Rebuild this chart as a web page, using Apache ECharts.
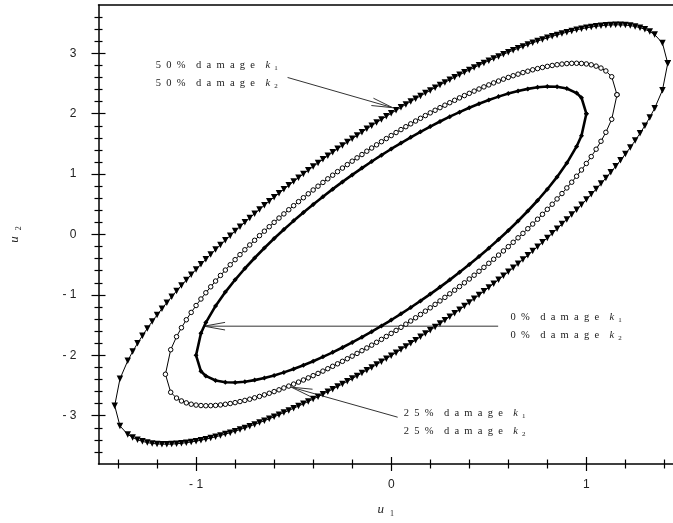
<!DOCTYPE html>
<html>
<head>
<meta charset="utf-8">
<script src="https://cdn.jsdelivr.net/npm/echarts@6/dist/echarts.min.js"></script>
<style>
  html, body { margin: 0; padding: 0; background: #fff; }
  #chart { width: 673px; height: 523px; }
</style>
</head>
<body>
<div id="chart"></div>
<script>
// orbits u1-u2 (closed loops: upper branch, then lower branch)
var orbit50 = [
  [1.417,2.834],[1.39,3.170],[1.35,3.310],[1.325,3.361],[1.30,3.398],[1.275,3.425],[1.25,3.445],[1.225,3.459],[1.20,3.467],[1.175,3.471],
  [1.15,3.472],[1.125,3.470],[1.10,3.465],[1.075,3.457],[1.05,3.447],[1.025,3.435],[1.00,3.422],[0.975,3.406],[0.95,3.389],[0.925,3.370],
  [0.90,3.350],[0.875,3.328],[0.85,3.305],[0.825,3.281],[0.80,3.256],[0.775,3.230],[0.75,3.202],[0.725,3.174],[0.70,3.145],[0.675,3.114],
  [0.65,3.083],[0.625,3.051],[0.60,3.018],[0.575,2.984],[0.55,2.949],[0.525,2.914],[0.50,2.877],[0.475,2.840],[0.45,2.803],[0.425,2.764],
  [0.40,2.725],[0.375,2.685],[0.35,2.644],[0.325,2.603],[0.30,2.561],[0.275,2.518],[0.25,2.475],[0.225,2.431],[0.20,2.386],[0.175,2.341],
  [0.15,2.295],[0.125,2.249],[0.10,2.202],[0.075,2.154],[0.05,2.105],[0.025,2.056],[0,2.007],
  [-0.025,1.956],[-0.05,1.905],[-0.075,1.854],[-0.10,1.802],[-0.125,1.749],[-0.15,1.695],[-0.175,1.641],[-0.20,1.586],[-0.225,1.531],[-0.25,1.475],
  [-0.275,1.418],[-0.30,1.361],[-0.325,1.303],[-0.35,1.244],[-0.375,1.185],[-0.40,1.125],[-0.425,1.064],[-0.45,1.003],[-0.475,0.940],[-0.50,0.877],
  [-0.525,0.814],[-0.55,0.749],[-0.575,0.684],[-0.60,0.618],[-0.625,0.551],[-0.65,0.483],[-0.675,0.414],[-0.70,0.345],[-0.725,0.274],[-0.75,0.202],
  [-0.775,0.130],[-0.80,0.056],[-0.825,-0.019],[-0.85,-0.095],[-0.875,-0.172],[-0.90,-0.250],[-0.925,-0.330],[-0.95,-0.411],[-0.975,-0.494],[-1.00,-0.578],
  [-1.025,-0.665],[-1.05,-0.753],[-1.075,-0.843],[-1.10,-0.935],[-1.125,-1.030],[-1.15,-1.128],[-1.175,-1.229],[-1.20,-1.333],[-1.225,-1.441],[-1.25,-1.555],
  [-1.275,-1.675],[-1.30,-1.802],[-1.325,-1.939],[-1.35,-2.090],[-1.39,-2.390],[-1.417,-2.834],
  [-1.39,-3.170],[-1.35,-3.310],[-1.325,-3.361],[-1.30,-3.398],[-1.275,-3.425],[-1.25,-3.445],[-1.225,-3.459],[-1.20,-3.467],[-1.175,-3.471],
  [-1.15,-3.472],[-1.125,-3.470],[-1.10,-3.465],[-1.075,-3.457],[-1.05,-3.447],[-1.025,-3.435],[-1.00,-3.422],[-0.975,-3.406],[-0.95,-3.389],[-0.925,-3.370],
  [-0.90,-3.350],[-0.875,-3.328],[-0.85,-3.305],[-0.825,-3.281],[-0.80,-3.256],[-0.775,-3.230],[-0.75,-3.202],[-0.725,-3.174],[-0.70,-3.145],[-0.675,-3.114],
  [-0.65,-3.083],[-0.625,-3.051],[-0.60,-3.018],[-0.575,-2.984],[-0.55,-2.949],[-0.525,-2.914],[-0.50,-2.877],[-0.475,-2.840],[-0.45,-2.803],[-0.425,-2.764],
  [-0.40,-2.725],[-0.375,-2.685],[-0.35,-2.644],[-0.325,-2.603],[-0.30,-2.561],[-0.275,-2.518],[-0.25,-2.475],[-0.225,-2.431],[-0.20,-2.386],[-0.175,-2.341],
  [-0.15,-2.295],[-0.125,-2.249],[-0.10,-2.202],[-0.075,-2.154],[-0.05,-2.105],[-0.025,-2.056],[0,-2.007],
  [0.025,-1.956],[0.05,-1.905],[0.075,-1.854],[0.10,-1.802],[0.125,-1.749],[0.15,-1.695],[0.175,-1.641],[0.20,-1.586],[0.225,-1.531],[0.25,-1.475],
  [0.275,-1.418],[0.30,-1.361],[0.325,-1.303],[0.35,-1.244],[0.375,-1.185],[0.40,-1.125],[0.425,-1.064],[0.45,-1.003],[0.475,-0.940],[0.50,-0.877],
  [0.525,-0.814],[0.55,-0.749],[0.575,-0.684],[0.60,-0.618],[0.625,-0.551],[0.65,-0.483],[0.675,-0.414],[0.70,-0.345],[0.725,-0.274],[0.75,-0.202],
  [0.775,-0.130],[0.80,-0.056],[0.825,0.019],[0.85,0.095],[0.875,0.172],[0.90,0.250],[0.925,0.330],[0.95,0.411],[0.975,0.494],[1.00,0.578],
  [1.025,0.665],[1.05,0.753],[1.075,0.843],[1.10,0.935],[1.125,1.030],[1.15,1.128],[1.175,1.229],[1.20,1.333],[1.225,1.441],[1.25,1.555],
  [1.275,1.675],[1.30,1.802],[1.325,1.939],[1.35,2.090],[1.39,2.390],[1.417,2.834]
];
var orbit25 = [
  [1.157,2.314],[1.13,2.612],[1.10,2.708],[1.075,2.756],[1.05,2.788],[1.025,2.810],[1.00,2.824],[0.975,2.832],[0.95,2.835],[0.925,2.834],
  [0.90,2.830],[0.875,2.822],[0.85,2.811],[0.825,2.799],[0.80,2.784],[0.775,2.766],[0.75,2.747],[0.725,2.727],[0.70,2.704],[0.675,2.681],
  [0.65,2.655],[0.625,2.629],[0.60,2.601],[0.575,2.572],[0.55,2.541],[0.525,2.510],[0.50,2.477],[0.475,2.444],[0.45,2.409],[0.425,2.374],
  [0.40,2.337],[0.375,2.300],[0.35,2.262],[0.325,2.222],[0.30,2.182],[0.275,2.141],[0.25,2.100],[0.225,2.057],[0.20,2.014],[0.175,1.969],
  [0.15,1.924],[0.125,1.879],[0.10,1.832],[0.075,1.785],[0.05,1.737],[0.025,1.688],[0,1.638],
  [-0.025,1.588],[-0.05,1.537],[-0.075,1.485],[-0.10,1.432],[-0.125,1.379],[-0.15,1.324],[-0.175,1.269],[-0.20,1.214],[-0.225,1.157],[-0.25,1.100],
  [-0.275,1.041],[-0.30,0.982],[-0.325,0.922],[-0.35,0.862],[-0.375,0.800],[-0.40,0.737],[-0.425,0.674],[-0.45,0.609],[-0.475,0.544],[-0.50,0.477],
  [-0.525,0.410],[-0.55,0.341],[-0.575,0.272],[-0.60,0.201],[-0.625,0.129],[-0.65,0.055],[-0.675,-0.019],[-0.70,-0.096],[-0.725,-0.173],[-0.75,-0.253],
  [-0.775,-0.334],[-0.80,-0.417],[-0.825,-0.501],[-0.85,-0.589],[-0.875,-0.678],[-0.90,-0.771],[-0.925,-0.866],[-0.95,-0.965],[-0.975,-1.068],[-1.00,-1.176],
  [-1.025,-1.290],[-1.05,-1.412],[-1.075,-1.544],[-1.10,-1.692],[-1.13,-1.908],[-1.157,-2.314],
  [-1.13,-2.612],[-1.10,-2.708],[-1.075,-2.756],[-1.05,-2.788],[-1.025,-2.810],[-1.00,-2.824],[-0.975,-2.832],[-0.95,-2.835],[-0.925,-2.834],
  [-0.90,-2.830],[-0.875,-2.822],[-0.85,-2.811],[-0.825,-2.799],[-0.80,-2.784],[-0.775,-2.766],[-0.75,-2.747],[-0.725,-2.727],[-0.70,-2.704],[-0.675,-2.681],
  [-0.65,-2.655],[-0.625,-2.629],[-0.60,-2.601],[-0.575,-2.572],[-0.55,-2.541],[-0.525,-2.510],[-0.50,-2.477],[-0.475,-2.444],[-0.45,-2.409],[-0.425,-2.374],
  [-0.40,-2.337],[-0.375,-2.300],[-0.35,-2.262],[-0.325,-2.222],[-0.30,-2.182],[-0.275,-2.141],[-0.25,-2.100],[-0.225,-2.057],[-0.20,-2.014],[-0.175,-1.969],
  [-0.15,-1.924],[-0.125,-1.879],[-0.10,-1.832],[-0.075,-1.785],[-0.05,-1.737],[-0.025,-1.688],[0,-1.638],
  [0.025,-1.588],[0.05,-1.537],[0.075,-1.485],[0.10,-1.432],[0.125,-1.379],[0.15,-1.324],[0.175,-1.269],[0.20,-1.214],[0.225,-1.157],[0.25,-1.100],
  [0.275,-1.041],[0.30,-0.982],[0.325,-0.922],[0.35,-0.862],[0.375,-0.800],[0.40,-0.737],[0.425,-0.674],[0.45,-0.609],[0.475,-0.544],[0.50,-0.477],
  [0.525,-0.410],[0.55,-0.341],[0.575,-0.272],[0.60,-0.201],[0.625,-0.129],[0.65,-0.055],[0.675,0.019],[0.70,0.096],[0.725,0.173],[0.75,0.253],
  [0.775,0.334],[0.80,0.417],[0.825,0.501],[0.85,0.589],[0.875,0.678],[0.90,0.771],[0.925,0.866],[0.95,0.965],[0.975,1.068],[1.00,1.176],
  [1.025,1.290],[1.05,1.412],[1.075,1.544],[1.10,1.692],[1.13,1.908],[1.157,2.314]
];
var orbit0 = [
  [1.0,2.0],[0.975,2.265],[0.95,2.342],[0.90,2.417],[0.85,2.446],[0.80,2.450],[0.75,2.437],[0.70,2.411],[0.65,2.376],[0.60,2.333],
  [0.55,2.283],[0.50,2.226],[0.45,2.165],[0.40,2.098],[0.35,2.026],[0.30,1.951],[0.25,1.871],[0.20,1.787],[0.15,1.700],[0.10,1.609],
  [0.05,1.514],[0,1.416],
  [-0.05,1.314],[-0.10,1.209],[-0.15,1.100],[-0.20,0.987],[-0.25,0.871],[-0.30,0.751],[-0.35,0.626],[-0.40,0.498],[-0.45,0.365],[-0.50,0.226],
  [-0.55,0.083],[-0.60,-0.067],[-0.65,-0.224],[-0.70,-0.389],[-0.75,-0.563],[-0.80,-0.750],[-0.85,-0.954],[-0.90,-1.183],[-0.95,-1.458],
  [-0.975,-1.635],[-1.0,-2.0],
  [-0.975,-2.265],[-0.95,-2.342],[-0.90,-2.417],[-0.85,-2.446],[-0.80,-2.450],[-0.75,-2.437],[-0.70,-2.411],[-0.65,-2.376],[-0.60,-2.333],
  [-0.55,-2.283],[-0.50,-2.226],[-0.45,-2.165],[-0.40,-2.098],[-0.35,-2.026],[-0.30,-1.951],[-0.25,-1.871],[-0.20,-1.787],[-0.15,-1.700],
  [-0.10,-1.609],[-0.05,-1.514],[0,-1.416],
  [0.05,-1.314],[0.10,-1.209],[0.15,-1.100],[0.20,-0.987],[0.25,-0.871],[0.30,-0.751],[0.35,-0.626],[0.40,-0.498],[0.45,-0.365],[0.50,-0.226],
  [0.55,-0.083],[0.60,0.067],[0.65,0.224],[0.70,0.389],[0.75,0.563],[0.80,0.750],[0.85,0.954],[0.90,1.183],[0.95,1.458],[0.975,1.635],[1.0,2.0]
];

// axis ticks
var xMajor = [-1, 0, 1];
var xMinor = [-1.4, -1.2, -0.8, -0.6, -0.4, -0.2, 0.2, 0.4, 0.6, 0.8, 1.2, 1.4];
var yMajor = [-3, -2, -1, 0, 1, 2, 3];
var yMinor = [-3.6, -3.4, -3.2, -2.8, -2.6, -2.4, -2.2, -1.8, -1.6, -1.4, -1.2, -0.8, -0.6, -0.4, -0.2,
              0.2, 0.4, 0.6, 0.8, 1.2, 1.4, 1.6, 1.8, 2.2, 2.4, 2.6, 2.8, 3.2, 3.4, 3.6];

// annotations: damage level, arrow tail, arrow tip, text anchor (data units)
var noteLevel = ['50', '0', '25'];
var noteTail = [[-0.531, 2.60], [0.548, -1.518], [0.033, -3.025]];
var noteTip = [[0.007, 2.10], [-0.959, -1.518], [-0.512, -2.528]];
var noteText = [[-1.206, 2.80], [0.611, -1.374], [0.064, -2.964]];

var chart = echarts.init(document.getElementById('chart'), null, { renderer: 'canvas' });

// the right end of the x axis is cut by the picture edge
var X_MIN = -1.5, X_MAX = 1.444, Y_MIN = -3.8, Y_MAX = 3.8;
var black = '#000';
var tickStyle = { color: black, width: 1.2 };
var labelFont = { color: '#222', fontSize: 12, fontFamily: 'Liberation Sans, Arial, sans-serif' };
var fmt = function (v) { return v < 0 ? '- ' + (-v) : String(v); };

function xAx(extra) {
  return Object.assign({
    type: 'value', min: X_MIN, max: X_MAX, position: 'bottom',
    axisLine: { show: false, onZero: false },
    axisTick: { show: false },
    axisLabel: { show: false },
    splitLine: { show: false }
  }, extra);
}
function yAx(extra) {
  return Object.assign({
    type: 'value', min: Y_MIN, max: Y_MAX, position: 'left',
    axisLine: { show: false, onZero: false },
    axisTick: { show: false },
    axisLabel: { show: false },
    splitLine: { show: false }
  }, extra);
}

var nameRich = {
  u: { fontFamily: 'Liberation Serif, serif', fontStyle: 'italic', fontSize: 13, color: '#222' },
  s: { fontFamily: 'Liberation Serif, serif', fontSize: 8, color: '#222', padding: [8, 0, 0, 6] }
};

var noteRich = {
  t: { fontFamily: 'Liberation Serif, serif', fontSize: 10.5, fill: '#1a1a1a' },
  k: { fontFamily: 'Liberation Serif, serif', fontStyle: 'italic', fontSize: 10.5, fill: '#1a1a1a' },
  s: { fontFamily: 'Liberation Serif, serif', fontSize: 7, fill: '#1a1a1a', padding: [5, 0, 0, 4] }
};
function spaced(str) { return str.split('').join('\u2002'); }
function noteLine(level, sub) {
  return '{t|' + spaced(level + '%') + '\u2003' + spaced('damage') + '\u2003}{k|k}{s|' + sub + '}';
}

chart.setOption({
  animation: false,
  backgroundColor: '#fff',
  grid: { left: 97, right: 0, top: 5, bottom: 59 },
  xAxis: [
    xAx({
      axisLine: { show: true, onZero: false, lineStyle: { color: black, width: 1.5 } },
      axisTick: { show: true, customValues: xMajor, length: 7, lineStyle: tickStyle },
      axisLabel: Object.assign({ show: true, customValues: xMajor, formatter: fmt, margin: 15 }, labelFont),
      name: '{u|u}{s|1}', nameLocation: 'middle', nameGap: 38,
      nameTextStyle: { rich: nameRich }
    }),
    xAx({ axisTick: { show: true, inside: true, customValues: xMajor, length: 7, lineStyle: tickStyle } }),
    xAx({ axisTick: { show: true, customValues: xMinor, length: 4.5, lineStyle: tickStyle } }),
    xAx({ axisTick: { show: true, inside: true, customValues: xMinor, length: 4.5, lineStyle: tickStyle } }),
    xAx({ position: 'top', axisLine: { show: true, onZero: false, lineStyle: { color: black, width: 1.5 } } })
  ],
  yAxis: [
    yAx({
      axisLine: { show: true, onZero: false, lineStyle: { color: black, width: 1.5 } },
      axisTick: { show: true, customValues: yMajor, length: 7, lineStyle: tickStyle },
      axisLabel: Object.assign({ show: true, customValues: yMajor, formatter: fmt, margin: 22 }, labelFont),
      name: '{u|u}{s|2}', nameLocation: 'middle', nameGap: 76,
      nameTextStyle: { rich: nameRich }
    }),
    yAx({ axisTick: { show: true, inside: true, customValues: yMajor, length: 7, lineStyle: tickStyle } }),
    yAx({ axisTick: { show: true, customValues: yMinor, length: 4, lineStyle: tickStyle } }),
    yAx({ axisTick: { show: true, inside: true, customValues: yMinor, length: 4, lineStyle: tickStyle } })
  ],
  series: [
    {
      name: '0% damage', type: 'line', data: orbit0, xAxisIndex: 0, yAxisIndex: 0,
      symbol: 'diamond', symbolSize: 5, showAllSymbol: true,
      lineStyle: { color: black, width: 2.6 }, itemStyle: { color: black }
    },
    {
      name: '25% damage', type: 'line', data: orbit25, xAxisIndex: 0, yAxisIndex: 0,
      symbol: 'circle', symbolSize: 4.5, showAllSymbol: true,
      lineStyle: { color: black, width: 1 },
      itemStyle: { color: '#fff', borderColor: black, borderWidth: 1 }
    },
    {
      name: '50% damage', type: 'line', data: orbit50, xAxisIndex: 0, yAxisIndex: 0,
      symbol: 'triangle', symbolRotate: 180, symbolSize: 6.5, showAllSymbol: true,
      lineStyle: { color: black, width: 1 }, itemStyle: { color: black }
    },
    {
      name: 'notes', type: 'custom', coordinateSystem: 'cartesian2d',
      xAxisIndex: 0, yAxisIndex: 0, clip: false, silent: true,
      data: noteTip,
      renderItem: function (params, api) {
        var i = params.dataIndex;
        var a = api.coord(noteTail[i]);
        var b = api.coord(noteTip[i]);
        var dx = b[0] - a[0], dy = b[1] - a[1];
        var len = Math.sqrt(dx * dx + dy * dy);
        var ux = dx / len, uy = dy / len;
        var hl = 21, hw = 3.8;
        var bx = b[0] - ux * hl, by = b[1] - uy * hl;
        var t = api.coord(noteText[i]);
        return {
          type: 'group',
          children: [
            { type: 'line', shape: { x1: a[0], y1: a[1], x2: b[0], y2: b[1] },
              style: { stroke: '#333', lineWidth: 1 } },
            { type: 'polyline',
              shape: { points: [[bx - uy * hw, by + ux * hw], [b[0], b[1]], [bx + uy * hw, by - ux * hw]] },
              style: { stroke: '#333', fill: null, lineWidth: 1 } },
            { type: 'text', x: t[0], y: t[1],
              style: { text: noteLine(noteLevel[i], '1'), rich: noteRich, verticalAlign: 'middle', align: 'left' } },
            { type: 'text', x: t[0], y: t[1] + 18,
              style: { text: noteLine(noteLevel[i], '2'), rich: noteRich, verticalAlign: 'middle', align: 'left' } }
          ]
        };
      }
    }
  ]
});
</script>
</body>
</html>
